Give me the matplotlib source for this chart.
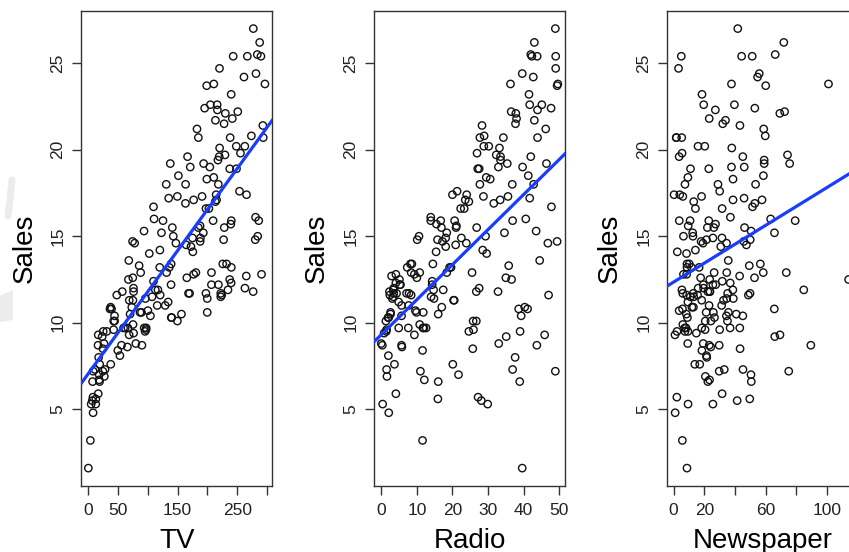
import numpy as np
import matplotlib.pyplot as plt
from matplotlib.lines import Line2D
from matplotlib.patches import Polygon

plt.rcParams['font.family'] = ['Liberation Sans', 'DejaVu Sans']

# Advertising data (budgets in thousands of dollars, sales in thousands of units)
tv = [230.1, 44.5, 17.2, 151.5, 180.8, 8.7, 57.5, 120.2, 8.6, 199.8,
      66.1, 214.7, 23.8, 97.5, 204.1, 195.4, 67.8, 281.4, 69.2, 147.3,
      218.4, 237.4, 13.2, 228.3, 62.3, 262.9, 142.9, 240.1, 248.8, 70.6,
      292.9, 112.9, 97.2, 265.6, 95.7, 290.7, 266.9, 74.7, 43.1, 228.0,
      202.5, 177.0, 293.6, 206.9, 25.1, 175.1, 89.7, 239.9, 227.2, 66.9,
      199.8, 100.4, 216.4, 182.6, 262.7, 198.9, 7.3, 136.2, 210.8, 210.7,
      53.5, 261.3, 239.3, 102.7, 131.1, 69.0, 31.5, 139.3, 237.4, 216.8,
      199.1, 109.8, 26.8, 129.4, 213.4, 16.9, 27.5, 120.5, 5.4, 116.0,
      76.4, 239.8, 75.3, 68.4, 213.5, 193.2, 76.3, 110.7, 88.3, 109.8,
      134.3, 28.6, 217.7, 250.9, 107.4, 163.3, 197.6, 184.9, 289.7, 135.2,
      222.4, 296.4, 280.2, 187.9, 238.2, 137.9, 25.0, 90.4, 13.1, 255.4,
      225.8, 241.7, 175.7, 209.6, 78.2, 75.1, 139.2, 76.4, 125.7, 19.4,
      141.3, 18.8, 224.0, 123.1, 229.5, 87.2, 7.8, 80.2, 220.3, 59.6,
      0.7, 265.2, 8.4, 219.8, 36.9, 48.3, 25.6, 273.7, 43.0, 184.9,
      73.4, 193.7, 220.5, 104.6, 96.2, 140.3, 240.1, 243.2, 38.0, 44.7,
      280.7, 121.0, 197.6, 171.3, 187.8, 4.1, 93.9, 149.8, 11.7, 131.7,
      172.5, 85.7, 188.4, 163.5, 117.2, 234.5, 17.9, 206.8, 215.4, 284.3,
      50.0, 164.5, 19.6, 168.4, 222.4, 276.9, 248.4, 170.2, 276.7, 165.6,
      156.6, 218.5, 56.2, 287.6, 253.8, 205.0, 139.5, 191.1, 286.0, 18.7,
      39.5, 75.5, 17.2, 166.8, 149.7, 38.2, 94.2, 177.0, 283.6, 232.1]

radio = [37.8, 39.3, 45.9, 41.3, 10.8, 48.9, 32.8, 19.6, 2.1, 2.6,
         5.8, 24.0, 35.1, 7.6, 32.9, 47.7, 36.6, 39.6, 20.5, 23.9,
         27.7, 5.1, 15.9, 16.9, 12.6, 3.5, 29.3, 16.7, 27.1, 16.0,
         28.3, 17.4, 1.5, 20.0, 1.4, 4.1, 43.8, 49.4, 26.7, 37.7,
         22.3, 33.4, 27.7, 8.4, 25.7, 22.5, 9.9, 41.5, 15.8, 11.7,
         3.1, 9.6, 41.7, 46.2, 28.8, 49.4, 28.1, 19.2, 49.6, 29.5,
         2.0, 42.7, 15.5, 29.6, 42.8, 9.3, 24.6, 14.5, 27.5, 43.9,
         30.6, 14.3, 33.0, 5.7, 24.6, 43.7, 1.6, 28.5, 29.9, 7.7,
         26.7, 4.1, 20.3, 44.5, 43.0, 18.4, 27.5, 40.6, 25.5, 47.8,
         4.9, 1.5, 33.5, 36.5, 14.0, 31.6, 3.5, 21.0, 42.3, 41.7,
         4.3, 36.3, 10.1, 17.2, 34.3, 46.4, 11.0, 0.3, 0.4, 26.9,
         8.2, 38.0, 15.4, 20.6, 46.8, 35.0, 14.3, 0.8, 36.9, 16.0,
         26.8, 21.7, 2.4, 34.6, 32.3, 11.8, 38.9, 0.0, 49.0, 12.0,
         39.6, 2.9, 27.2, 33.5, 38.6, 47.0, 39.0, 28.9, 25.9, 43.9,
         17.0, 35.4, 33.2, 5.7, 14.8, 1.9, 7.3, 49.0, 40.3, 25.8,
         13.9, 8.4, 23.3, 39.7, 21.1, 11.6, 43.5, 1.3, 36.9, 18.4,
         18.1, 35.8, 18.1, 36.8, 14.7, 3.4, 37.6, 5.2, 23.6, 10.6,
         11.6, 20.9, 20.1, 7.1, 3.4, 48.9, 30.2, 7.8, 2.3, 10.0,
         2.6, 5.4, 5.7, 43.0, 21.3, 45.1, 2.1, 28.7, 13.9, 12.1,
         41.1, 10.8, 4.1, 42.0, 35.6, 3.7, 4.9, 9.3, 42.0, 8.6]

newspaper = [69.2, 45.1, 69.3, 58.5, 58.4, 75.0, 23.5, 11.6, 1.0, 21.2,
             24.2, 4.0, 65.9, 7.2, 46.0, 52.9, 114.0, 55.8, 18.3, 19.1,
             53.4, 23.5, 49.6, 26.2, 18.3, 19.5, 12.6, 22.9, 22.9, 40.8,
             43.2, 38.6, 30.0, 0.3, 7.4, 8.5, 5.0, 45.7, 35.1, 32.0,
             31.6, 38.7, 1.8, 26.4, 43.3, 31.5, 35.7, 18.5, 49.9, 36.8,
             34.6, 3.6, 39.6, 58.7, 15.9, 60.0, 41.4, 16.6, 37.7, 9.3,
             21.4, 54.7, 27.3, 8.4, 28.9, 0.9, 2.2, 10.2, 11.0, 27.2,
             38.7, 31.7, 19.3, 31.3, 13.1, 89.4, 20.7, 14.2, 9.4, 23.1,
             22.3, 36.9, 32.5, 35.6, 33.8, 65.7, 16.0, 63.2, 73.4, 51.4,
             9.3, 33.0, 59.0, 72.3, 10.9, 52.9, 5.9, 22.0, 51.2, 45.9,
             49.8, 100.9, 21.4, 17.9, 5.3, 59.0, 29.7, 23.2, 25.6, 5.5,
             56.5, 23.2, 2.4, 10.7, 34.5, 52.7, 25.6, 14.8, 79.2, 22.3,
             46.2, 50.4, 15.6, 12.4, 74.2, 25.9, 50.6, 9.2, 3.2, 43.1,
             8.7, 43.0, 2.1, 45.1, 65.6, 8.5, 9.3, 59.7, 20.5, 1.7,
             12.9, 75.6, 37.9, 34.4, 38.9, 9.0, 8.7, 44.3, 11.9, 20.6,
             37.0, 48.7, 14.2, 37.7, 9.5, 5.7, 50.5, 24.3, 45.2, 34.6,
             30.7, 49.3, 25.6, 7.4, 5.4, 84.8, 21.6, 19.4, 57.6, 6.4,
             18.4, 47.4, 17.0, 12.8, 13.1, 41.8, 20.3, 35.2, 23.7, 17.6,
             8.3, 27.4, 29.7, 71.8, 30.0, 19.6, 26.6, 18.2, 3.7, 23.4,
             5.8, 6.0, 31.6, 3.6, 6.0, 13.8, 8.1, 6.4, 66.2, 8.7]

sales = [22.1, 10.4, 9.3, 18.5, 12.9, 7.2, 11.8, 13.2, 4.8, 10.6,
         8.6, 17.4, 9.2, 9.7, 19.0, 22.4, 12.5, 24.4, 11.3, 14.6,
         18.0, 12.5, 5.6, 15.5, 9.7, 12.0, 15.0, 15.9, 18.9, 10.5,
         21.4, 11.9, 9.6, 17.4, 9.5, 12.8, 25.4, 14.7, 10.1, 21.5,
         16.6, 17.1, 20.7, 12.9, 8.5, 14.9, 10.6, 23.2, 14.8, 9.7,
         11.4, 10.7, 22.6, 21.2, 20.2, 23.7, 5.5, 13.2, 23.8, 18.4,
         8.1, 24.2, 15.7, 14.0, 18.0, 9.3, 9.5, 13.4, 18.9, 22.3,
         18.3, 12.4, 8.8, 11.0, 17.0, 8.7, 6.9, 14.2, 5.3, 11.0,
         11.8, 12.3, 11.3, 13.6, 21.7, 15.2, 12.0, 16.0, 12.9, 16.7,
         11.2, 7.3, 19.4, 22.2, 11.5, 16.9, 11.7, 15.5, 25.4, 17.2,
         11.7, 23.8, 14.8, 14.7, 20.7, 19.2, 7.2, 8.7, 5.3, 19.8,
         13.4, 21.8, 14.1, 15.9, 14.6, 12.6, 12.2, 9.4, 15.9, 6.6,
         15.5, 7.0, 11.6, 15.2, 19.7, 10.6, 6.6, 8.8, 24.7, 9.7,
         1.6, 12.7, 5.7, 19.6, 10.8, 11.6, 9.5, 20.8, 9.6, 20.7,
         10.9, 19.2, 20.1, 10.4, 11.4, 10.3, 13.2, 25.4, 10.9, 10.1,
         16.1, 11.6, 16.6, 19.0, 15.6, 3.2, 15.3, 10.1, 7.3, 12.9,
         14.4, 13.3, 14.9, 18.0, 11.9, 11.9, 8.0, 12.2, 17.1, 15.0,
         8.4, 14.5, 7.6, 11.7, 11.5, 27.0, 20.2, 11.7, 11.8, 12.6,
         10.5, 12.2, 8.7, 26.2, 17.6, 22.6, 10.3, 17.3, 15.9, 6.7,
         10.8, 9.9, 5.9, 19.6, 17.3, 7.6, 9.7, 12.8, 25.5, 13.4]

predictors = ['TV', 'Radio', 'Newspaper']
xticks = [[0, 50, 100, 150, 200, 250, 300],
          [0, 10, 20, 30, 40, 50],
          [0, 20, 40, 60, 80, 100, 120]]
xticklabels = [['0', '50', '', '150', '', '250', ''],
               ['0', '10', '20', '30', '40', '50'],
               ['0', '20', '', '60', '', '100', '']]
yticks = [5, 10, 15, 20, 25]

W, H = 849, 552
fig = plt.figure(figsize=(W / 100, H / 100), dpi=100)

# light grey watermark remnant at the left edge
fig.add_artist(Line2D([12 / W, 10 / W, 8 / W], [1 - 180 / H, 1 - 200 / H, 1 - 216 / H],
                      color='#ececec', lw=5, solid_capstyle='round',
                      transform=fig.transFigure))
fig.add_artist(Polygon([(0, 1 - 296 / H), (13 / W, 1 - 290 / H), (13 / W, 1 - 320 / H), (0, 1 - 322 / H)],
                       closed=True, color='#ececec', transform=fig.transFigure, lw=0))


def r_lim(v):
    lo, hi = min(v), max(v)
    pad = 0.04 * (hi - lo)
    return lo - pad, hi + pad


frame_col = '#333333'
for i, (x, name) in enumerate(zip([tv, radio, newspaper], predictors)):
    left = 81.3 + i * 292.9
    ax = fig.add_axes([left / W, (H - 485.7) / H, 190.7 / W, 474.7 / H])
    ax.scatter(x, sales, s=28, facecolors='none', edgecolors='#111111', linewidths=1.0, zorder=2)
    slope, intercept = np.polyfit(x, sales, 1)
    ax.axline((0, intercept), slope=slope, color='#1a3cff', lw=2.3, zorder=3)
    ax.set_xlim(*r_lim(x))
    ax.set_ylim(*r_lim(sales))
    ax.set_xticks(xticks[i])
    ax.set_xticklabels(xticklabels[i])
    ax.set_yticks(yticks)
    ax.tick_params(axis='both', direction='out', length=6.5, width=1, color=frame_col,
                   labelsize=12.5, labelcolor='#222222', pad=6)
    ax.tick_params(axis='y', labelrotation=90, pad=5)
    for lab in ax.get_yticklabels():
        lab.set_va('center')
    for sp in ax.spines.values():
        sp.set_color(frame_col)
        sp.set_linewidth(1.0)
    ax.set_xlabel(name, fontsize=20, labelpad=7)
    ax.set_ylabel('Sales', fontsize=20, va='center')
    ax.yaxis.set_label_coords(-57 / 190.7, 0.5)

fig.savefig('out.png', dpi=100)
